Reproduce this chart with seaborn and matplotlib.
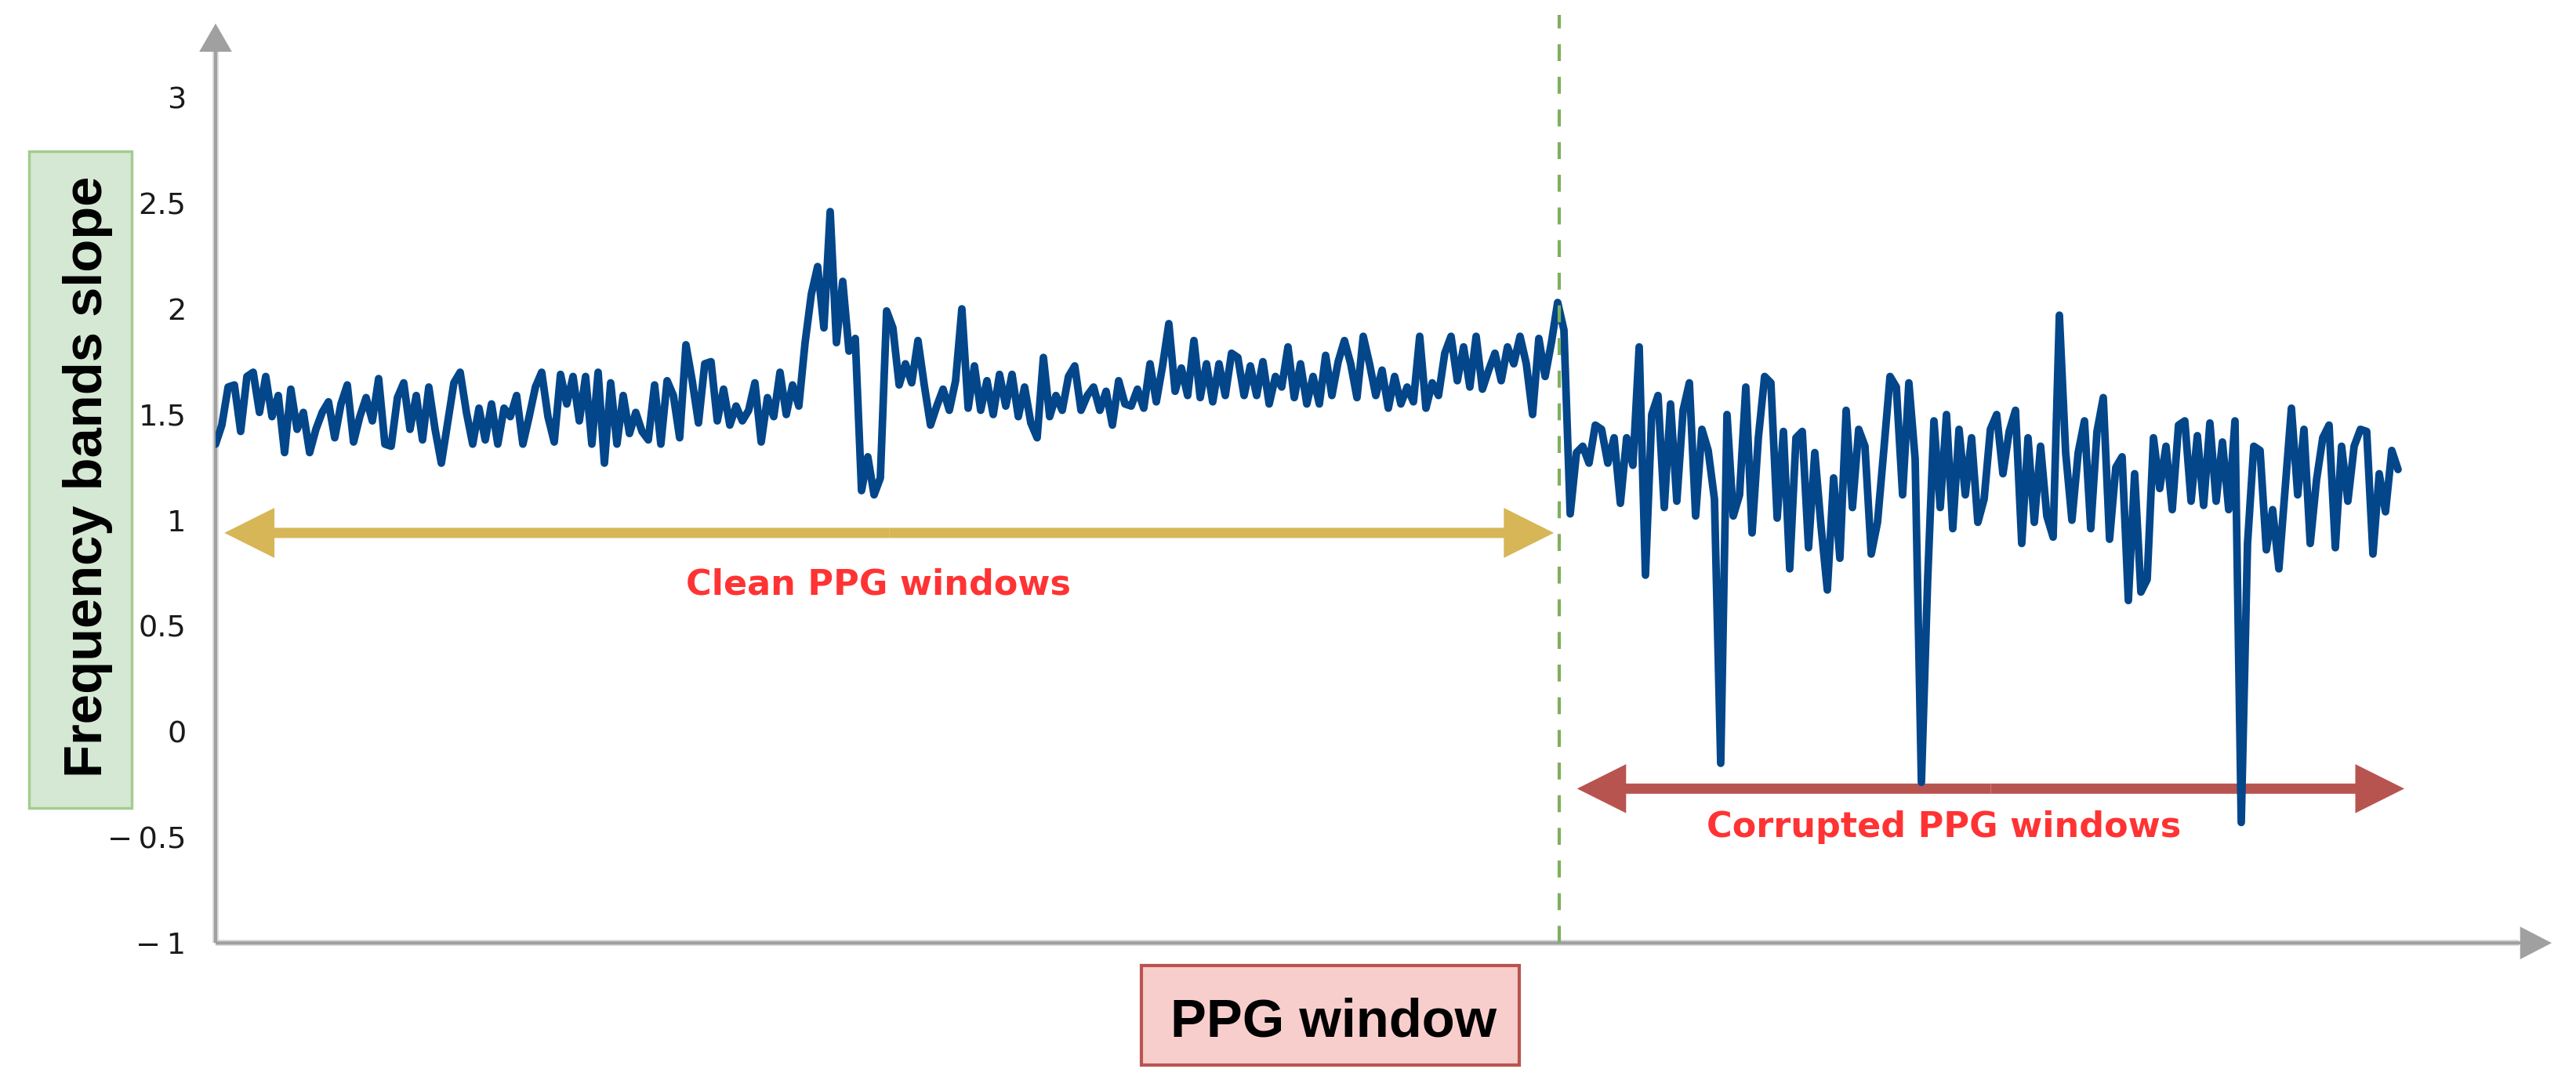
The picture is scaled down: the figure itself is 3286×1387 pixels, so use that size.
import numpy as np
import pandas as pd
import matplotlib.pyplot as plt
from matplotlib.patches import FancyArrowPatch, Rectangle, ArrowStyle
import seaborn as sns

########################################################################
# values, one PPG window every ~8 px
########################################################################
clean_slope = [
    1.36, 1.45, 1.63, 1.64, 1.42, 1.68, 1.70, 1.51, 1.68, 1.49,
    1.59, 1.32, 1.62, 1.43, 1.51, 1.32, 1.43, 1.51, 1.56, 1.39,
    1.55, 1.64, 1.37, 1.49, 1.58, 1.47, 1.67, 1.36, 1.35, 1.58,
    1.65, 1.43, 1.59, 1.38, 1.63, 1.43, 1.27, 1.46, 1.65, 1.70,
    1.51, 1.36, 1.53, 1.38, 1.55, 1.36, 1.53, 1.49, 1.59, 1.36,
    1.49, 1.63, 1.70, 1.49, 1.37,
    1.69, 1.55, 1.68, 1.47, 1.68, 1.36, 1.70, 1.27, 1.65, 1.36,
    1.59, 1.41, 1.51, 1.42, 1.38, 1.64, 1.36, 1.66, 1.59, 1.39,
    1.83, 1.66, 1.46, 1.74, 1.75, 1.47, 1.62, 1.45, 1.54, 1.47,
    1.52, 1.65, 1.37, 1.58, 1.49, 1.70, 1.50, 1.64, 1.54, 1.84,
    2.07, 2.20, 1.91, 2.46, 1.84, 2.13, 1.80, 1.86, 1.14, 1.30,
    1.12, 1.20, 1.99, 1.91,
    1.64, 1.74, 1.65, 1.85, 1.64, 1.45, 1.54, 1.62, 1.52, 1.66,
    2.00, 1.53, 1.73, 1.52, 1.66, 1.50, 1.69, 1.54, 1.69, 1.49,
    1.63, 1.46, 1.39, 1.77, 1.49, 1.59, 1.52, 1.68, 1.73, 1.52,
    1.59, 1.63, 1.52, 1.61, 1.45, 1.66, 1.55, 1.54, 1.62, 1.53,
    1.74, 1.56, 1.73, 1.93, 1.61, 1.72, 1.59, 1.85, 1.58, 1.74,
    1.56, 1.74, 1.59, 1.79,
    1.77, 1.59, 1.73, 1.59, 1.75, 1.55, 1.68, 1.63, 1.82, 1.58,
    1.74, 1.55, 1.68, 1.55, 1.78, 1.59, 1.75, 1.85, 1.74, 1.58,
    1.87, 1.74, 1.59, 1.71, 1.53, 1.68, 1.55, 1.63, 1.56, 1.87,
    1.53, 1.65, 1.59, 1.79, 1.87, 1.66, 1.82, 1.63, 1.87, 1.62,
    1.71, 1.79, 1.66, 1.82, 1.74, 1.87, 1.74, 1.50, 1.86, 1.68,
    1.84, 2.03,
]

corrupted_slope = [
    1.90, 1.03, 1.32, 1.35, 1.27, 1.45, 1.43, 1.27, 1.39, 1.08,
    1.39, 1.26, 1.82, 0.74, 1.50, 1.59, 1.06, 1.55, 1.09, 1.52,
    1.65, 1.02, 1.43, 1.33, 1.10, -0.15, 1.50, 1.02, 1.12, 1.63,
    0.94, 1.39, 1.68, 1.65, 1.01, 1.42, 0.77, 1.39, 1.42, 0.87,
    1.32, 0.97, 0.67, 1.20, 0.82, 1.52, 1.06, 1.43, 1.35, 0.84,
    0.99, 1.33, 1.68, 1.63, 1.12, 1.65, 1.29, -0.24, 0.72, 1.47,
    1.06, 1.50, 0.96, 1.43, 1.12, 1.39, 0.99,
    1.10, 1.43, 1.50, 1.22, 1.42, 1.52, 0.89, 1.39, 0.99, 1.35,
    1.02, 0.92, 1.97, 1.32, 1.00, 1.32, 1.47, 0.96, 1.42, 1.58,
    0.91, 1.25, 1.30, 0.62, 1.22, 0.66, 0.72, 1.39, 1.15, 1.35,
    1.05, 1.45, 1.47, 1.09, 1.40, 1.07, 1.46, 1.09, 1.37, 1.05,
    1.47, -0.43, 0.89, 1.35, 1.33, 0.86, 1.05, 0.77, 1.15, 1.53,
    1.12, 1.43, 0.89, 1.19, 1.39, 1.45, 0.87, 1.35, 1.09, 1.35,
    1.43, 1.42, 0.84, 1.22, 1.04, 1.33, 1.24,
]

yticks = [-1, -0.5, 0, 0.5, 1, 1.5, 2, 2.5, 3]
ytick_labels = ["\u2212\u20091", "\u2212\u20090.5", "0", "0.5", "1", "1.5", "2", "2.5", "3"]

ylabel = "Frequency bands slope"
xlabel = "PPG window"
clean_text = "Clean PPG windows"
corrupted_text = "Corrupted PPG windows"

# annotation arrows: (start window, end window, slope level)
clean_span = (1.4, 213.4, 0.94)
corrupted_span = (217.1, 349.0, -0.27)
boundary = 214.2

########################################################################
# style
########################################################################
sns.set_style("white")
plt.rcParams["font.family"] = ["DejaVu Sans"]

slope = clean_slope + corrupted_slope
df = pd.DataFrame({"window": np.arange(len(slope)), "slope": slope})

fig = plt.figure(figsize=(32.87, 13.87), dpi=100)
ax = fig.add_axes([0.08366, 0.1325, 0.9066, 0.8459])

sns.lineplot(data=df, x="window", y="slope", ax=ax, color="#03468a",
             linewidth=7, estimator=None, zorder=4)

ax.set_xlim(0, 372.5)
ax.set_ylim(-1, 3.35)
ax.set_xlabel("")
ax.set_ylabel("")
for s in ax.spines.values():
    s.set_visible(False)
ax.set_xticks([])
ax.set_yticks(yticks, ytick_labels)
ax.tick_params(axis="y", direction="out", length=16, width=1.2,
               color="#a6a6a6", pad=11, labelsize=27.5, labelcolor="#1a1a1a")


def arrow(start, end, color, head_len, head_w, tail_w, transform, z=3):
    p = FancyArrowPatch(start, end,
                        arrowstyle=ArrowStyle.Simple(head_length=head_len, head_width=head_w,
                                                     tail_width=tail_w),
                        mutation_scale=1, color=color, lw=0, shrinkA=0, shrinkB=0,
                        zorder=z, clip_on=False, transform=transform)
    ax.add_patch(p)


########################################################################
# axis arrows
########################################################################
gray = "#a0a0a0"
ax.plot([0, 0.986], [0, 0], transform=ax.transAxes, color="#d8d8d8", lw=5.5,
        clip_on=False, zorder=1, solid_capstyle="butt")
ax.plot([0, 0], [0, 0.97], transform=ax.transAxes, color="#d8d8d8", lw=5.5,
        clip_on=False, zorder=1, solid_capstyle="butt")
arrow((0, 0), (1, 0), gray, 29, 30, 3, ax.transAxes, z=2)
arrow((0, 0), (0, 1), gray, 26, 30, 3, ax.transAxes, z=2)

# boundary between clean and corrupted windows
ax.plot([boundary, boundary], [-1, 3.39], color="#7fb05c", lw=3.0,
        linestyle=(0, (5.2, 4.8)), clip_on=False, zorder=5)

########################################################################
# double arrows and their texts
########################################################################
for (x0, x1, yv), col, hl, hw in [(clean_span, "#d6b656", 46, 46),
                                  (corrupted_span, "#b85450", 45, 45)]:
    mid = (x0 + x1) / 2
    arrow((mid, yv), (x1, yv), col, hl, hw, 9.4, ax.transData)
    arrow((mid, yv), (x0, yv), col, hl, hw, 9.4, ax.transData)

ax.text(105.75, 0.65, clean_text, color="#ff3333", fontsize=32,
        fontweight="bold", ha="center", va="baseline")
ax.text(275.6, -0.50, corrupted_text, color="#ff3333", fontsize=32,
        fontweight="bold", ha="center", va="baseline")

########################################################################
# axis titles in coloured boxes
########################################################################
fig.add_artist(Rectangle((0.01126, 0.2567), 0.03985, 0.6042, transform=fig.transFigure,
                         facecolor="#d5e8d4", edgecolor="#a4cc8f", lw=2.5))
fig.text(0.03955, 0.5616, ylabel, rotation=90, rotation_mode="anchor",
         ha="center", va="baseline", fontsize=49.5, fontweight="bold",
         family="Liberation Sans", color="black")

fig.add_artist(Rectangle((0.44296, 0.02019), 0.14664, 0.09156, transform=fig.transFigure,
                         facecolor="#f8cecc", edgecolor="#b85450", lw=3))
fig.text(0.51765, 0.04686, xlabel, ha="center", va="baseline", fontsize=49.5,
         fontweight="bold", family="Liberation Sans", color="black")

fig.savefig("out.png", dpi=100)
